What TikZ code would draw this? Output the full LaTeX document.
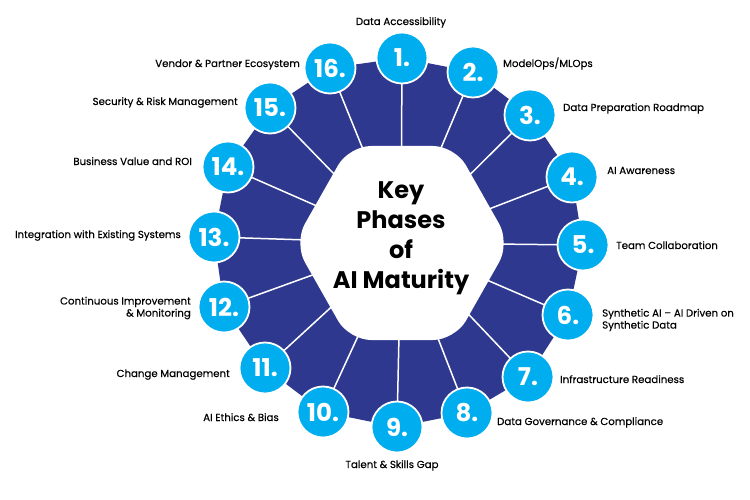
\documentclass[tikz,border=0pt]{standalone}
\usepackage{fontspec}
\setmainfont{Poppins}
\newfontfamily\medfont{Poppins}[FakeBold=0.35]
\definecolor{navy}{HTML}{2E388F}
\definecolor{cyanb}{HTML}{00AEEF}
\begin{document}
\begin{tikzpicture}[x=1pt,y=-1pt,
  num/.style={circle, fill=cyanb, draw=white, line width=1.8pt, minimum size=51pt, inner sep=0pt, text=white, font=\fontsize{24.5}{24.5}\selectfont\bfseries},
  lab/.style={font=\medfont\fontsize{10.2}{12}\selectfont, text=black, inner sep=0pt},
  spoke/.style={draw=white, line width=1.5pt},
  title/.style={align=center, font=\fontsize{24}{30}\selectfont\bfseries, text=black, inner sep=0pt}]
\useasboundingbox (0,0) rectangle (750,500);
\coordinate (c) at (401,243);
\coordinate (p1) at (402,58);
\coordinate (p2) at (473,72);
\coordinate (p3) at (530,115);
\coordinate (p4) at (572,177);
\coordinate (p5) at (583,245);
\coordinate (p6) at (568,315);
\coordinate (p7) at (528,377);
\coordinate (p8) at (467,413);
\coordinate (p9) at (397,427);
\coordinate (p10) at (323,412);
\coordinate (p11) at (265,368);
\coordinate (p12) at (224,307);
\coordinate (p13) at (214,237);
\coordinate (p14) at (228,167);
\coordinate (p15) at (270,108);
\coordinate (p16) at (330,68);
\fill[navy] (p1) -- (p2) -- (p3) -- (p4) -- (p5) -- (p6) -- (p7) -- (p8) -- (p9) -- (p10) -- (p11) -- (p12) -- (p13) -- (p14) -- (p15) -- (p16) -- cycle;
\foreach \i in {1,...,16} \draw[spoke] (c) -- (p\i);
\fill[white, rounded corners=22pt] (294,243) -- (349,146) -- (455,146) -- (510,243) -- (455,340) -- (349,340) -- cycle;
\node[title] (t) at (401,238) {Key\\Phases\\of\\AI Maturity};
\foreach \i in {1,...,16} \node[num] (n\i) at (p\i) {\i.};
\node[lab, anchor=base] (l1) at (401,25) {Data Accessibility};
\node[lab, anchor=base west] (l2) at (503,67) {ModelOps/MLOps};
\node[lab, anchor=base west] (l3) at (563,111) {Data Preparation Roadmap};
\node[lab, anchor=base west] (l4) at (607,174) {AI Awareness};
\node[lab, anchor=base west] (l5) at (616,249) {Team Collaboration};
\node[lab, anchor=west, align=left] (l6) at (602,320) {Synthetic AI – AI Driven on\\Synthetic Data};
\node[lab, anchor=base west] (l7) at (560,383) {Infrastructure Readiness};
\node[lab, anchor=base west] (l8) at (497,425) {Data Governance \& Compliance};
\node[lab, anchor=base] (l9) at (392,468) {Talent \& Skills Gap};
\node[lab, anchor=base east] (l10) at (279,421) {AI Ethics \& Bias};
\node[lab, anchor=base east] (l11) at (230,377) {Change Management};
\node[lab, anchor=east, align=right] (l12) at (191,308) {Continuous Improvement\\\& Monitoring};
\node[lab, anchor=base east] (l13) at (181,238) {Integration with Existing Systems};
\node[lab, anchor=base east] (l14) at (192,165) {Business Value and ROI};
\node[lab, anchor=base east] (l15) at (238,105) {Security \& Risk Management};
\node[lab, anchor=base east] (l16) at (300,67) {Vendor \& Partner Ecosystem};
\end{tikzpicture}
\end{document}
